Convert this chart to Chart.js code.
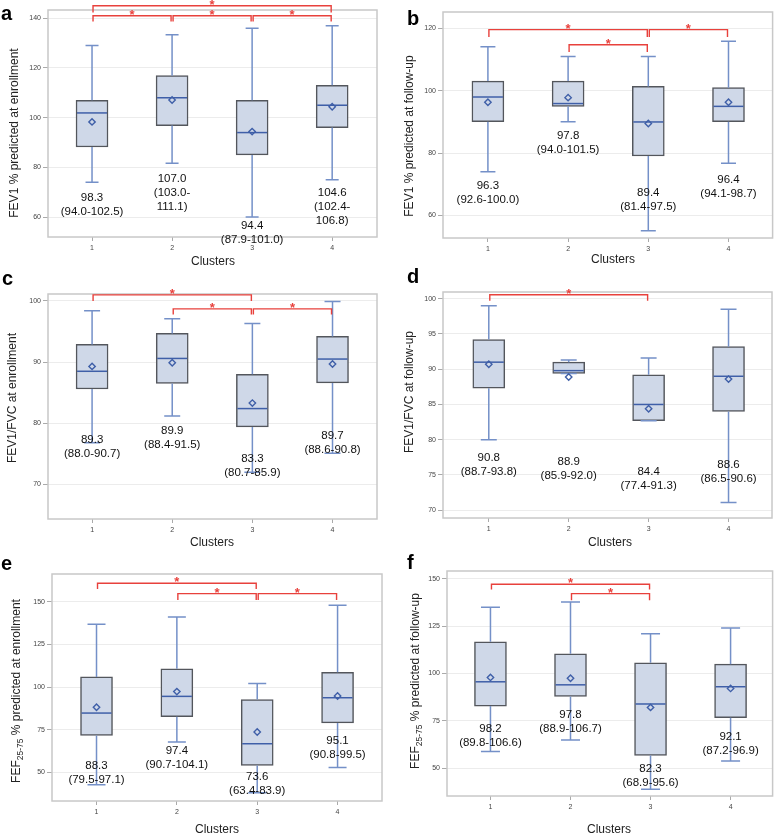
<!DOCTYPE html>
<html>
<head>
<meta charset="utf-8">
<script src="https://cdn.jsdelivr.net/npm/chart.js@4.4.1/dist/chart.umd.min.js"></script>
<style>
  body { margin: 0; background: #fff; }
  #wrap { position: relative; width: 778px; height: 836px; overflow: hidden; background: #fff; }
  #wrap canvas { position: absolute; }
</style>
</head>
<body>
<div id="wrap">
  <canvas id="pa" width="390" height="275" style="left:0px;top:0px"></canvas>
  <canvas id="pb" width="388" height="275" style="left:390px;top:0px"></canvas>
  <canvas id="pc" width="390" height="290" style="left:0px;top:265px"></canvas>
  <canvas id="pd" width="388" height="290" style="left:390px;top:265px"></canvas>
  <canvas id="pe" width="390" height="288" style="left:0px;top:548px"></canvas>
  <canvas id="pf" width="388" height="288" style="left:390px;top:548px"></canvas>
</div>
<script>
// clusters on the x axis
const clusters = [1, 2, 3, 4];

// a: FEV1 % predicted at enrollment
const aMin = [74, 81.7, 60, 75];
const aQ1 = [88.2, 96.8, 85, 96];
const aMed = [101.9, 108, 94, 105];
const aQ3 = [107, 116.9, 107, 113];
const aMax = [129, 133.3, 136, 137];
const aMean = [98.3, 107.1, 94.4, 104.4];
const aText = [['98.3', '(94.0-102.5)'], ['107.0', '(103.0-', '111.1)'], ['94.4', '(87.9-101.0)'], ['104.6', '(102.4-', '106.8)']];
const aTextY = [67.9, 75.3, 56.4, 69.8];
const aTicks = [60, 80, 100, 120, 140];
const aBrackets = [[1, 4, 145, 142.3], [1, 2, 141, 138.7], [2, 3, 141, 138.7], [3, 4, 141, 138.7]];

// b: FEV1 % predicted at follow-up
const bMin = [74.0, 90.1, 55.1, 76.8];
const bQ1 = [90.1, 95.0, 79.1, 90.1];
const bMed = [98.0, 95.9, 90.0, 95.0];
const bQ3 = [103.1, 103.1, 101.4, 101.0];
const bMax = [114.1, 111, 111, 115.9];
const bMean = [96.3, 97.8, 89.5, 96.3];
const bText = [['96.3', '(92.6-100.0)'], ['97.8', '(94.0-101.5)'], ['89.4', '(81.4-97.5)'], ['96.4', '(94.1-98.7)']];
const bTextY = [69.6, 85.6, 67.3, 71.6];
const bTicks = [60, 80, 100, 120];
const bBrackets = [[1, 3, 119.6, 117.2], [2, 3, 114.75, 112.4], [3, 4, 119.6, 117.2]];

// c: FEV1/FVC at enrollment
const cMin = [76.8, 81.2, 72.0, 75.1];
const cQ1 = [85.6, 86.5, 79.4, 86.6];
const cMed = [88.5, 90.6, 82.4, 90.5];
const cQ3 = [92.9, 94.7, 88.0, 94.2];
const cMax = [98.4, 97.1, 96.3, 99.9];
const cMean = [89.3, 89.9, 83.3, 89.7];
const cText = [['89.3', '(88.0-90.7)'], ['89.9', '(88.4-91.5)'], ['83.3', '(80.7-85.9)'], ['89.7', '(88.6-90.8)']];
const cTextY = [77.3, 78.8, 74.2, 78.0];
const cTicks = [70, 80, 90, 100];
const cBrackets = [[1, 3, 101.0, 100.0], [2, 3, 98.7, 97.8], [3, 4, 98.7, 97.8]];

// d: FEV1/FVC at follow-up
const dMin = [80.0, 89.4, 82.7, 71.1];
const dQ1 = [87.3, 89.4, 82.7, 84.0];
const dMed = [91.0, 89.8, 85.0, 89.0];
const dQ3 = [94.2, 91.0, 89.2, 93.2];
const dMax = [99.0, 91.3, 91.6, 98.5];
const dMean = [90.7, 88.9, 84.4, 88.6];
const dText = [['90.8', '(88.7-93.8)'], ['88.9', '(85.9-92.0)'], ['84.4', '(77.4-91.3)'], ['88.6', '(86.5-90.6)']];
const dTextY = [77.5, 76.9, 75.5, 76.5];
const dTicks = [70, 75, 80, 85, 90, 95, 100];
const dBrackets = [[1, 3, 100.57, 99.7]];

// e: FEF25-75 % predicted at enrollment
const eMin = [42.8, 67.8, 38.1, 52.9];
const eQ1 = [71.7, 82.7, 54.1, 79.0];
const eMed = [84.8, 94.6, 66.8, 93.8];
const eQ3 = [106.0, 110.8, 92.7, 108.7];
const eMax = [136.9, 141.2, 102.1, 148.0];
const eMean = [88.2, 97.4, 73.7, 94.8];
const eText = [['88.3', '(79.5-97.1)'], ['97.4', '(90.7-104.1)'], ['73.6', '(63.4-83.9)'], ['95.1', '(90.8-99.5)']];
const eTextY = [53.9, 62.7, 47.5, 68.4];
const eTicks = [50, 75, 100, 125, 150];
const eBrackets = [[1, 3, 161.0, 157.6], [2, 3, 154.9, 151.2], [3, 4, 154.9, 151.2]];

// f: FEF25-75 % predicted at follow-up
const fMin = [58.8, 64.9, 38.9, 53.9];
const fQ1 = [82.8, 87.9, 56.8, 76.7];
const fMed = [95.6, 94.0, 83.9, 93.0];
const fQ3 = [116.7, 110.4, 105.6, 104.9];
const fMax = [134.9, 137.7, 120.9, 123.9];
const fMean = [97.9, 97.5, 82.1, 92.1];
const fText = [['98.2', '(89.8-106.6)'], ['97.8', '(88.9-106.7)'], ['82.3', '(68.9-95.6)'], ['92.1', '(87.2-96.9)']];
const fTextY = [70.7, 78.1, 49.8, 66.5];
const fTicks = [50, 75, 100, 125, 150];
const fBrackets = [[1, 3, 147.0, 144.2], [2, 3, 142.1, 138.6]];

const FONT = '"Liberation Sans", Arial, sans-serif';
const BOX_FILL = '#cfd8e8';
const BOX_EDGE = '#53565c';
const WHISKER = '#7490c8';
const MEDIAN = '#3f5fa8';
const RED = '#e8413c';

// rotated y title, "_{..}" marks a subscript
function drawYTitle(ctx, text, x, y) {
  const parts = text.split(/_\{|\}/);
  const big = '12px ' + FONT, small = '8.5px ' + FONT;
  let total = 0;
  parts.forEach((t, i) => { ctx.font = i % 2 ? small : big; total += ctx.measureText(t).width; });
  ctx.save();
  ctx.translate(x, y);
  ctx.rotate(-Math.PI / 2);
  ctx.fillStyle = '#222';
  ctx.textBaseline = 'middle';
  ctx.textAlign = 'left';
  let pos = -total / 2;
  parts.forEach((t, i) => {
    ctx.font = i % 2 ? small : big;
    ctx.fillText(t, pos, i % 2 ? 3.5 : 0);
    pos += ctx.measureText(t).width;
  });
  ctx.restore();
}

function makeExtras(p) {
  return {
    id: 'boxExtras',
    afterDatasetDraw(chart, args) {
      if (args.index !== 0) return;
      const x = chart.scales.x, y = chart.scales.y, ctx = chart.ctx;
      ctx.save();
      ctx.lineWidth = 1.5;
      clusters.forEach((c, i) => {
        const cx = x.getPixelForValue(c);
        const hw = p.cap / 2;
        ctx.strokeStyle = WHISKER;
        ctx.beginPath();
        ctx.moveTo(cx, y.getPixelForValue(p.q3[i]));
        ctx.lineTo(cx, y.getPixelForValue(p.max[i]));
        ctx.moveTo(cx - hw, y.getPixelForValue(p.max[i]));
        ctx.lineTo(cx + hw, y.getPixelForValue(p.max[i]));
        ctx.moveTo(cx, y.getPixelForValue(p.q1[i]));
        ctx.lineTo(cx, y.getPixelForValue(p.min[i]));
        ctx.moveTo(cx - hw, y.getPixelForValue(p.min[i]));
        ctx.lineTo(cx + hw, y.getPixelForValue(p.min[i]));
        ctx.stroke();
        // median
        ctx.strokeStyle = MEDIAN;
        ctx.beginPath();
        ctx.moveTo(cx - 15, y.getPixelForValue(p.med[i]));
        ctx.lineTo(cx + 15, y.getPixelForValue(p.med[i]));
        ctx.stroke();
      });
      ctx.restore();
    },
    afterDraw(chart) {
      const x = chart.scales.x, y = chart.scales.y, ctx = chart.ctx;
      const a = chart.chartArea;
      ctx.save();
      // frame round the plot
      ctx.strokeStyle = '#c8c8c8';
      ctx.lineWidth = 1.5;
      ctx.strokeRect(a.left, a.top, a.right - a.left, a.bottom - a.top);

      // significance brackets
      ctx.strokeStyle = RED;
      ctx.fillStyle = RED;
      ctx.lineWidth = 1.4;
      ctx.font = 'bold 13px ' + FONT;
      ctx.textAlign = 'center';
      ctx.textBaseline = 'middle';
      p.brackets.forEach(b => {
        const x1 = x.getPixelForValue(b[0]) + 1, x2 = x.getPixelForValue(b[1]) - 1;
        const yb = y.getPixelForValue(b[2]), yt = y.getPixelForValue(b[3]);
        ctx.beginPath();
        ctx.moveTo(x1, yt);
        ctx.lineTo(x1, yb);
        ctx.lineTo(x2, yb);
        ctx.lineTo(x2, yt);
        ctx.stroke();
        ctx.fillText('*', (x1 + x2) / 2, yb - 0.5);
      });

      // mean (CI) labels
      ctx.fillStyle = '#111';
      ctx.font = '11.5px ' + FONT;
      clusters.forEach((c, i) => {
        const cx = x.getPixelForValue(c);
        const y0 = y.getPixelForValue(p.textY[i]);
        p.text[i].forEach((t, k) => ctx.fillText(t, cx, y0 + k * 14));
      });

      // axis titles
      ctx.fillStyle = '#222';
      ctx.font = '12px ' + FONT;
      ctx.fillText('Clusters', p.xTitle[0], p.xTitle[1]);
      drawYTitle(ctx, p.yTitle, p.yTitlePos[0], p.yTitlePos[1]);

      // panel letter
      ctx.fillStyle = '#000';
      ctx.font = 'bold 20px ' + FONT;
      ctx.textAlign = 'left';
      ctx.textBaseline = 'alphabetic';
      ctx.fillText(p.letter, p.letterPos[0], p.letterPos[1]);
      ctx.restore();
    }
  };
}

function makePanel(id, p) {
  const canvas = document.getElementById(id);
  const W = canvas.width, H = canvas.height;
  return new Chart(canvas, {
    type: 'bar',
    data: {
      datasets: [{
        type: 'bar',
        order: 2,
        data: clusters.map((c, i) => ({ x: c, y: [p.q1[i], p.q3[i]] })),
        backgroundColor: BOX_FILL,
        borderColor: BOX_EDGE,
        borderWidth: 1.5,
        borderSkipped: false,
        barThickness: 32
      }, {
        type: 'scatter',
        order: 1,
        data: clusters.map((c, i) => ({ x: c, y: p.mean[i] })),
        pointStyle: 'rectRot',
        pointRadius: 3.2,
        borderColor: MEDIAN,
        backgroundColor: 'rgba(0,0,0,0)',
        borderWidth: 1.4
      }]
    },
    options: {
      responsive: false,
      animation: false,
      devicePixelRatio: 1,
      layout: { padding: { left: 0, top: p.frame[1], right: W - p.frame[2], bottom: 0 } },
      plugins: { legend: { display: false }, tooltip: { enabled: false } },
      scales: {
        x: {
          type: 'linear',
          offset: false,
          min: p.xRange[0],
          max: p.xRange[1],
          afterBuildTicks: s => { s.ticks = clusters.map(v => ({ value: v })); },
          afterFit: s => { s.height = H - p.frame[3]; },
          grid: { offset: false, drawOnChartArea: false, tickLength: 4, tickColor: '#aaa' },
          border: { display: false },
          ticks: { font: { size: 7, family: FONT }, color: '#444', padding: 3 }
        },
        y: {
          min: p.yRange[0],
          max: p.yRange[1],
          afterBuildTicks: s => { s.ticks = p.ticks.map(v => ({ value: v })); },
          afterFit: s => { s.width = p.frame[0]; },
          grid: { color: '#ececec', tickColor: '#aaa', tickLength: 5 },
          border: { display: false },
          ticks: { font: { size: 7, family: FONT }, color: '#444', padding: 2 }
        }
      }
    },
    plugins: [makeExtras(p)]
  });
}

makePanel('pa', {
  min: aMin, q1: aQ1, med: aMed, q3: aQ3, max: aMax, mean: aMean,
  text: aText, textY: aTextY, ticks: aTicks, brackets: aBrackets,
  frame: [48, 10, 377, 237], xRange: [0.45, 4.56], yRange: [52, 143.3], cap: 13,
  yTitle: 'FEV1 % predicted at enrollment', yTitlePos: [15, 133], xTitle: [213, 262],
  letter: 'a', letterPos: [1, 20]
});
makePanel('pb', {
  min: bMin, q1: bQ1, med: bMed, q3: bQ3, max: bMax, mean: bMean,
  text: bText, textY: bTextY, ticks: bTicks, brackets: bBrackets,
  frame: [53, 12, 383, 238], xRange: [0.44, 4.55], yRange: [52.8, 125.25], cap: 15,
  yTitle: 'FEV1 % predicted at follow-up', yTitlePos: [20, 136], xTitle: [223, 260],
  letter: 'b', letterPos: [17, 25]
});
makePanel('pc', {
  min: cMin, q1: cQ1, med: cMed, q3: cQ3, max: cMax, mean: cMean,
  text: cText, textY: cTextY, ticks: cTicks, brackets: cBrackets,
  frame: [48, 29, 377, 254], xRange: [0.45, 4.555], yRange: [64.34, 101.14], cap: 16,
  yTitle: 'FEV1/FVC at enrollment', yTitlePos: [13, 133], xTitle: [212, 278],
  letter: 'c', letterPos: [2, 20]
});
makePanel('pd', {
  min: dMin, q1: dQ1, med: dMed, q3: dQ3, max: dMax, mean: dMean,
  text: dText, textY: dTextY, ticks: dTicks, brackets: dBrackets,
  frame: [53, 27, 382, 253], xRange: [0.427, 4.544], yRange: [68.9, 100.95], cap: 16,
  yTitle: 'FEV1/FVC at follow-up', yTitlePos: [20, 127], xTitle: [220, 278],
  letter: 'd', letterPos: [17, 18]
});
makePanel('pe', {
  min: eMin, q1: eQ1, med: eMed, q3: eQ3, max: eMax, mean: eMean,
  text: eText, textY: eTextY, ticks: eTicks, brackets: eBrackets,
  frame: [52, 26, 382, 253], xRange: [0.446, 4.553], yRange: [33.2, 166.4], cap: 18,
  yTitle: 'FEF_{25-75} % predicted at enrollment', yTitlePos: [17, 143], xTitle: [217, 282],
  letter: 'e', letterPos: [1, 22]
});
makePanel('pf', {
  min: fMin, q1: fQ1, med: fMed, q3: fQ3, max: fMax, mean: fMean,
  text: fText, textY: fTextY, ticks: fTicks, brackets: fBrackets,
  frame: [57, 23, 383, 248], xRange: [0.457, 4.525], yRange: [35.4, 154.0], cap: 19,
  yTitle: 'FEF_{25-75} % predicted at follow-up', yTitlePos: [26, 133], xTitle: [219, 282],
  letter: 'f', letterPos: [17, 21]
});
</script>
</body>
</html>
